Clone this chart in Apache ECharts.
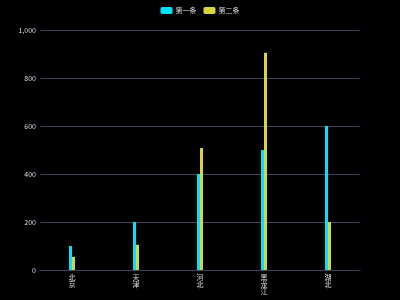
<!DOCTYPE html>
<html><head><meta charset="utf-8">
<script src="https://cdn.jsdelivr.net/npm/echarts@6/dist/echarts.min.js"></script>
<style>html,body{margin:0;padding:0;background:#000;}#c{width:400px;height:300px;}</style>
</head><body><div id="c"></div>
<script>
const categories = ['北京', '天津', '河北', '黑龙江', '湖北'];
const series1Name = '第一条';
const series2Name = '第二条';
const series1 = [100, 200, 400, 500, 600];
const series2 = [55, 105, 508, 905, 200];

const chart = echarts.init(document.getElementById('c'), null, {renderer: 'canvas'});
chart.setOption({
  backgroundColor: '#000',
  animation: false,
  textStyle: {fontFamily: '"Noto Sans CJK SC", sans-serif'},
  legend: {
    top: 2, left: 'center', itemWidth: 12, itemHeight: 7, itemGap: 7,
    textStyle: {color: '#ddd', fontSize: 7, padding: [0, 0, 0, -2]},
    data: [series1Name, series2Name]
  },
  grid: {left: 40, right: 40, top: 30, bottom: 30},
  xAxis: {
    type: 'category', data: categories,
    axisLine: {lineStyle: {color: '#3c4259'}},
    axisTick: {lineStyle: {color: '#3c4259'}, length: 3},
    axisLabel: {color: '#ddd', fontSize: 7, lineHeight: 7, margin: 4,
      rotate: 0, interval: 0, hideOverlap: false,
      formatter: function (v) { return v.split('').join('\n'); }}
  },
  yAxis: {
    type: 'value', min: 0, max: 1000, interval: 200,
    axisLine: {show: false}, axisTick: {show: false},
    splitLine: {lineStyle: {color: '#3c4259'}},
    axisLabel: {color: '#ddd', fontSize: 7, margin: 4}
  },
  series: [
    {name: series1Name, type: 'bar', data: series1, barWidth: 3, barGap: '0%',
     itemStyle: {color: '#00e3ff'}},
    {name: series2Name, type: 'bar', data: series2, barWidth: 3,
     itemStyle: {color: '#d6d63a'}}
  ]
});
</script></body></html>
